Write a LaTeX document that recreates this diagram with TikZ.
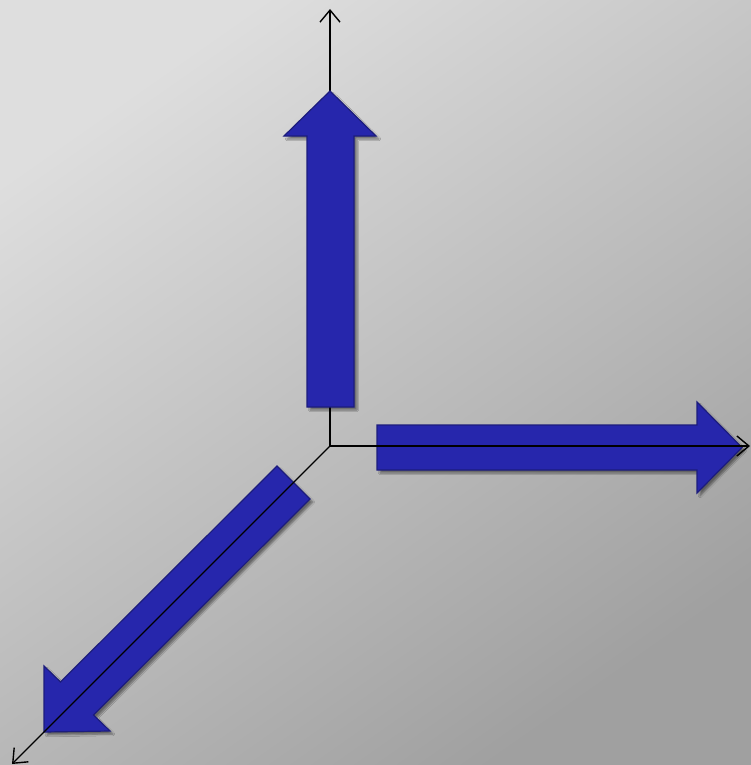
\documentclass[tikz,border=0pt]{standalone}
\usetikzlibrary{arrows.meta,shadows.blur}
\definecolor{arrowblue}{RGB}{38,38,172}
\definecolor{arrowedge}{RGB}{28,28,125}
\definecolor{bgtop}{RGB}{222,222,222}
\definecolor{bgbot}{RGB}{160,160,160}
\begin{document}
\begin{tikzpicture}[x=1pt,y=-1pt,
  fatarrow/.style={fill=arrowblue,draw=arrowedge,line width=1.2pt,line join=miter,
    blur shadow={shadow xshift=3pt,shadow yshift=-3pt,shadow opacity=45,shadow blur steps=6}},
  axis/.style={line width=1.4pt,-{Straight Barb[length=12pt,width=20pt,line width=1.4pt]}}]
\useasboundingbox (0,0) rectangle (751,765);
\shade[top color=bgtop,bottom color=bgbot,shading angle=35] (0,0) rectangle (751,765);
\coordinate (O) at (330,446);
\coordinate (Yend) at (330,9);
\coordinate (Xend) at (750,446);
\coordinate (Zend) at (12,764);
% vertical axis lies behind the up arrow
\draw[axis] (O) -- (Yend);
% up arrow
\filldraw[fatarrow] (307,407) -- (307,136) -- (284,136) -- (330,91) -- (376,136) -- (354,136) -- (354,407) -- cycle;
% right arrow
\filldraw[fatarrow] (377,425) -- (697,425) -- (697,402) -- (742,447.5) -- (697,493) -- (697,470) -- (377,470) -- cycle;
% diagonal arrow
\filldraw[fatarrow] (277,466) -- (60.5,682) -- (44,666) -- (44,732) -- (110,731) -- (93.5,715) -- (310,499) -- cycle;
% axes on top
\draw[axis] (O) -- (Xend);
\draw[axis] (O) -- (Zend);
\end{tikzpicture}
\end{document}
